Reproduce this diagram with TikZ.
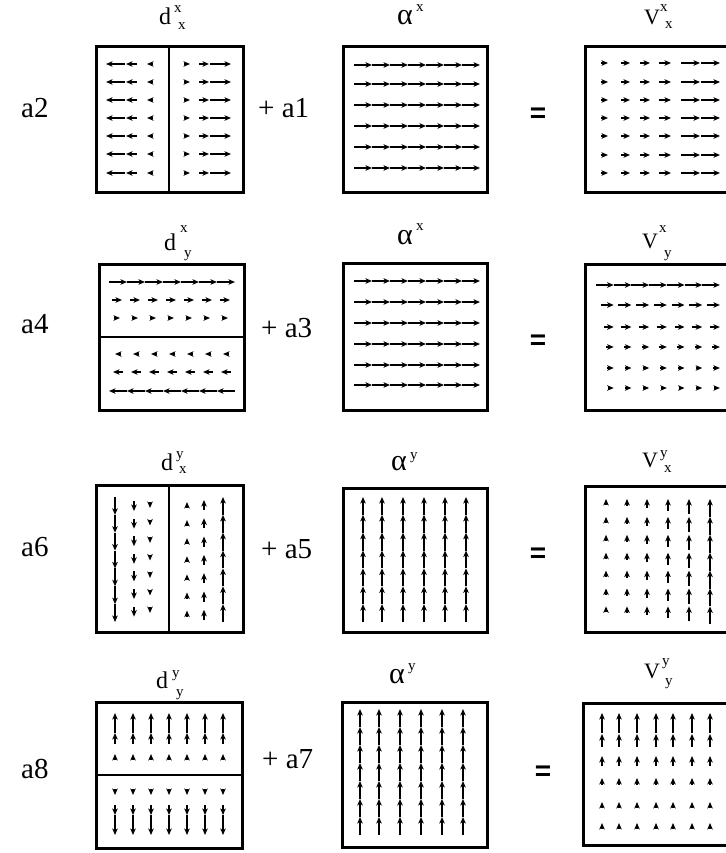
\documentclass[tikz,border=0pt]{standalone}
\usepackage{fontspec}
\setmainfont{Liberation Serif}
\newfontfamily\eqfont{Liberation Sans}
\usetikzlibrary{arrows.meta}
\tikzset{
  arr/.style={line width=1.2pt, -{Stealth[length=6.5pt,width=5.5pt,inset=1.8pt]}},
  frame/.style={line width=3pt},
  divider/.style={line width=2.2pt},
  dlab/.style={inner sep=0pt, anchor=base west, font=\fontsize{24}{24}\selectfont},
  alab/.style={inner sep=0pt, anchor=base west, font=\fontsize{30}{30}\selectfont},
  vlab/.style={inner sep=0pt, anchor=base west, font=\fontsize{22}{22}\selectfont},
  idx/.style={inner sep=0pt, anchor=base west, font=\fontsize{15}{15}\selectfont},
  coef/.style={inner sep=0pt, anchor=base west, font=\fontsize{29}{29}\selectfont},
  eqs/.style={inner sep=0pt, font=\eqfont\bfseries\fontsize{28}{28}\selectfont},
}
\begin{document}
\begin{tikzpicture}[x=1pt,y=-1pt]
\useasboundingbox (0,0) rectangle (725,853);

% ---------------- Row 1 ----------------
\node[coef] (a2) at (21,118) {a2};
\node[dlab] (d1) at (159,25) {d};
\node[idx] (d1s) at (174,13) {x};
\node[idx] (d1b) at (178,30) {x};
\draw[frame] (96,47) rectangle (243,192);
\draw[divider] (169,47) -- (169,192);
\foreach \y in {64,82,100,118,136,154,173}{
  \draw[arr] (125,\y) -- (106,\y);
  \draw[arr] (137,\y) -- (126,\y);
  \draw[arr] (153,\y) -- (147,\y);
  \draw[arr] (184,\y) -- (190,\y);
  \draw[arr] (199,\y) -- (209,\y);
  \draw[arr] (210,\y) -- (231,\y);
}
\node[coef] (p1) at (258,118) {+ a1};
\node[alab] (al1) at (397,25) {α};
\node[idx] (al1s) at (416,12) {x};
\draw[frame] (343,47) rectangle (487,192);
\foreach \y in {65,84,105,126,147,168}
  \foreach \i in {0,...,6}
    \draw[arr] ({354+18*\i},\y) -- ({372+18*\i},\y);
\node[eqs] (e1) at (538,115) {=};
\node[vlab] (v1) at (644,25) {V};
\node[idx] (v1s) at (660,12) {x};
\node[idx] (v1b) at (665,29) {x};
\draw[frame] (585,47) rectangle (760,192);
\foreach \y in {63,82,100,118,136,155,173}{
  \draw[arr] (601,\y) -- (608,\y);
  \draw[arr] (621,\y) -- (630,\y);
  \draw[arr] (640,\y) -- (650,\y);
  \draw[arr] (659,\y) -- (671,\y);
  \draw[arr] (681,\y) -- (700,\y);
  \draw[arr] (701,\y) -- (720,\y);
}

% ---------------- Row 2 ----------------
\node[coef] (a4) at (21,333) {a4};
\node[dlab] (d2) at (164,250) {d};
\node[idx] (d2s) at (180,232) {x};
\node[idx] (d2b) at (184,257) {y};
\draw[frame] (99,264) rectangle (244,410);
\draw[divider] (99,337) -- (244,337);
\foreach \i in {0,...,6}{
  \draw[arr] ({109+18*\i},282) -- ({127+18*\i},282);
  \draw[arr] ({112+18*\i},300) -- ({122+18*\i},300);
  \draw[arr] ({114+18*\i},318) -- ({120+18*\i},318);
  \draw[arr] ({121+18*\i},354) -- ({115+18*\i},354);
  \draw[arr] ({123+18*\i},372) -- ({113+18*\i},372);
  \draw[arr] ({127+18*\i},391) -- ({109+18*\i},391);
}
\node[coef] (p2) at (261,337) {+ a3};
\node[alab] (al2) at (397,244) {α};
\node[idx] (al2s) at (416,230) {x};
\draw[frame] (343,263) rectangle (487,410);
\foreach \y in {281,302,323,344,365,385}
  \foreach \i in {0,...,6}
    \draw[arr] ({354+18*\i},\y) -- ({372+18*\i},\y);
\node[eqs] (e2) at (538,342) {=};
\node[vlab] (v2) at (642,248) {V};
\node[idx] (v2s) at (659,232) {x};
\node[idx] (v2b) at (664,257) {y};
\draw[frame] (585,264) rectangle (760,410);
\foreach \i in {0,...,6}{
  \draw[arr] ({596+17.7*\i},285) -- ({613.7+17.7*\i},285);
  \draw[arr] ({600.7+17.7*\i},305) -- ({613.7+17.7*\i},305);
  \draw[arr] ({603.7+17.7*\i},327) -- ({613.7+17.7*\i},327);
  \draw[arr] ({606.2+17.7*\i},347) -- ({613.7+17.7*\i},347);
  \draw[arr] ({607.2+17.7*\i},368) -- ({613.7+17.7*\i},368);
  \draw[arr] ({607.7+17.7*\i},388) -- ({613.7+17.7*\i},388);
}

% ---------------- Row 3 ----------------
\node[coef] (a6) at (21,556) {a6};
\node[dlab] (d3) at (161,470) {d};
\node[idx] (d3s) at (176,458) {y};
\node[idx] (d3b) at (179,473) {x};
\draw[frame] (96,485) rectangle (243,632);
\draw[divider] (169,485) -- (169,632);
\foreach \i in {0,...,6}{
  \draw[arr] (115,{497+17.86*\i}) -- (115,{514.86+17.86*\i});
  \draw[arr] (134,{501+17.6*\i}) -- (134,{511+17.6*\i});
  \draw[arr] (150,{502+17.5*\i}) -- (150,{508+17.5*\i});
  \draw[arr] (187,{508+18.1*\i}) -- (187,{502+18.1*\i});
  \draw[arr] (204,{510+18.3*\i}) -- (204,{500+18.3*\i});
  \draw[arr] (223,{514.86+17.86*\i}) -- (223,{497+17.86*\i});
}
\node[coef] (p3) at (261,558) {+ a5};
\node[alab] (al3) at (391,470) {α};
\node[idx] (al3s) at (410,459) {y};
\draw[frame] (343,488) rectangle (487,632);
\foreach \x in {363,382,403,424,445,466}
  \foreach \i in {0,...,6}
    \draw[arr] (\x,{514.86+17.86*\i}) -- (\x,{497+17.86*\i});
\node[eqs] (e3) at (538,555) {=};
\node[vlab] (v3) at (642,467) {V};
\node[idx] (v3s) at (660,457) {y};
\node[idx] (v3b) at (664,472) {x};
\draw[frame] (585,486) rectangle (760,632);
\foreach \i in {0,...,6}{
  \draw[arr] (606,{505+17.9*\i}) -- (606,{499+17.9*\i});
  \draw[arr] (627,{506+17.9*\i}) -- (627,{499+17.9*\i});
  \draw[arr] (647,{508+17.9*\i}) -- (647,{499+17.9*\i});
  \draw[arr] (668,{511+17.9*\i}) -- (668,{499+17.9*\i});
  \draw[arr] (689,{514+17.9*\i}) -- (689,{499+17.9*\i});
  \draw[arr] (710,{516.9+17.9*\i}) -- (710,{499+17.9*\i});
}

% ---------------- Row 4 ----------------
\node[coef] (a8) at (21,778) {a8};
\node[dlab] (d4) at (156,688) {d};
\node[idx] (d4s) at (172,677) {y};
\node[idx] (d4b) at (176,696) {y};
\draw[frame] (96,702) rectangle (242,848);
\draw[divider] (96,775) -- (242,775);
\foreach \x in {115,133,151,169,187,205,223}{
  \draw[arr] (\x,733) -- (\x,713);
  \draw[arr] (\x,744) -- (\x,733);
  \draw[arr] (\x,760) -- (\x,754);
  \draw[arr] (\x,789) -- (\x,795);
  \draw[arr] (\x,805) -- (\x,815);
  \draw[arr] (\x,815) -- (\x,835);
}
\node[coef] (p4) at (262,768) {+ a7};
\node[alab] (al4) at (389,683) {α};
\node[idx] (al4s) at (408,670) {y};
\draw[frame] (342,702) rectangle (487,847);
\foreach \x in {360,379,400,421,442,463}
  \foreach \i in {0,...,6}
    \draw[arr] (\x,{727+18*\i}) -- (\x,{709+18*\i});
\node[eqs] (e4) at (543,773) {=};
\node[vlab] (v4) at (644,678) {V};
\node[idx] (v4s) at (662,665) {y};
\node[idx] (v4b) at (665,685) {y};
\draw[frame] (583,703) rectangle (760,845);
\foreach \x in {602,619,637,656,673,692,710}{
  \draw[arr] (\x,733) -- (\x,713);
  \draw[arr] (\x,747) -- (\x,734);
  \draw[arr] (\x,766) -- (\x,756);
  \draw[arr] (\x,785) -- (\x,778);
  \draw[arr] (\x,808) -- (\x,802);
  \draw[arr] (\x,829) -- (\x,823);
}
\end{tikzpicture}
\end{document}
